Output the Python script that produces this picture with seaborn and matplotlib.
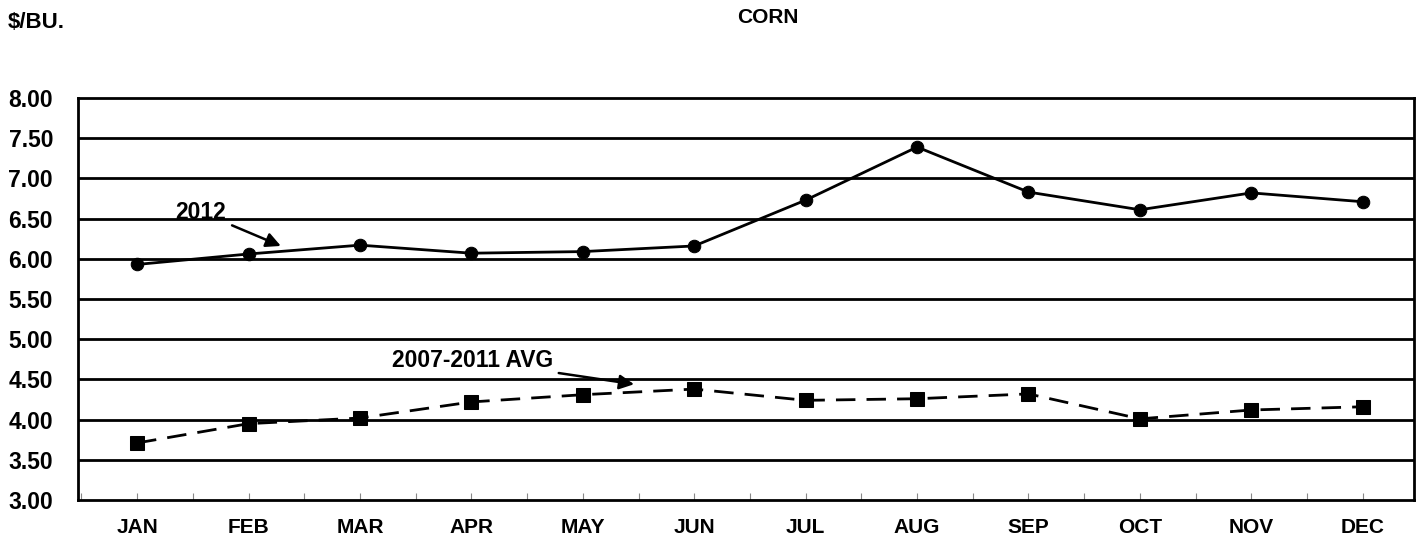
import numpy as np
import pandas as pd
import seaborn as sns
import matplotlib.pyplot as plt
from matplotlib.ticker import MultipleLocator

# данные: цены на кукурузу, $/бушель
months = ['JAN', 'FEB', 'MAR', 'APR', 'MAY', 'JUN', 'JUL', 'AUG', 'SEP', 'OCT', 'NOV', 'DEC']
price_2012 = [5.93, 6.06, 6.17, 6.07, 6.09, 6.16, 6.73, 7.39, 6.83, 6.61, 6.82, 6.71]
price_avg = [3.71, 3.95, 4.02, 4.22, 4.31, 4.38, 4.24, 4.26, 4.32, 4.01, 4.12, 4.16]
y_ticks = [3.0, 3.5, 4.0, 4.5, 5.0, 5.5, 6.0, 6.5, 7.0, 7.5, 8.0]

df = pd.DataFrame({'pos': np.arange(len(months)), 'y2012': price_2012, 'avg': price_avg})

sns.set_style('white')
plt.rcParams['font.family'] = ['Liberation Sans', 'DejaVu Sans']
plt.rcParams['font.weight'] = 'bold'
plt.rcParams['text.color'] = 'black'
plt.rcParams['xtick.color'] = 'black'
plt.rcParams['ytick.color'] = 'black'

fig = plt.figure(figsize=(14.24, 5.4), dpi=100)
ax = fig.add_axes([0.0548, 0.074, 0.9382, 0.7445])

# горизонтальные линии сетки
for t in y_ticks[1:-1]:
    ax.axhline(t, color='black', lw=2, zorder=1)

sns.lineplot(data=df, x='pos', y='y2012', ax=ax, color='black', lw=2,
             marker='o', markersize=9, markeredgecolor='black', zorder=3)
sns.lineplot(data=df, x='pos', y='avg', ax=ax, color='black', lw=2,
             marker='s', markersize=10, markeredgecolor='black', zorder=3)
ax.lines[-1].set_dashes([7, 4])

ax.set_xlim(-0.53, 11.46)
ax.set_ylim(3.0, 8.0)
ax.set_yticks(y_ticks)
ax.set_yticklabels([f'{t:.2f}' for t in y_ticks], fontsize=16.5, fontweight='bold', color='black')
ax.set_xticks(df['pos'])
ax.set_xticklabels(months, fontsize=15, fontweight='bold', color='black')
ax.xaxis.set_minor_locator(MultipleLocator(0.5))
ax.tick_params(axis='x', which='both', direction='in', length=5, width=0.8,
               color='#888888', bottom=True, pad=13)
ax.tick_params(axis='y', which='both', length=0, pad=18)
ax.set_xlabel('')
ax.set_ylabel('')

for s in ax.spines.values():
    s.set_color('black')
    s.set_linewidth(2)

# подписи со стрелками
ax.annotate('2012', xy=(1.29, 6.16), xytext=(0.80, 6.58), ha='right', va='center',
            fontsize=16.5, fontweight='bold', color='black',
            arrowprops=dict(arrowstyle='-|>', color='black', lw=1.8, mutation_scale=22,
                            shrinkA=2, shrinkB=0))
ax.annotate('2007-2011 AVG', xy=(4.46, 4.44), xytext=(3.73, 4.74), ha='right', va='center',
            fontsize=16.5, fontweight='bold', color='black',
            arrowprops=dict(arrowstyle='-|>', color='black', lw=1.8, mutation_scale=22,
                            shrinkA=2, shrinkB=0))

fig.text(0.539, 0.968, 'CORN', ha='center', va='center', fontsize=15, fontweight='bold')
fig.text(0.0056, 0.958, '$/BU.', ha='left', va='center', fontsize=16, fontweight='bold')

fig.savefig('out.png', dpi=100)
